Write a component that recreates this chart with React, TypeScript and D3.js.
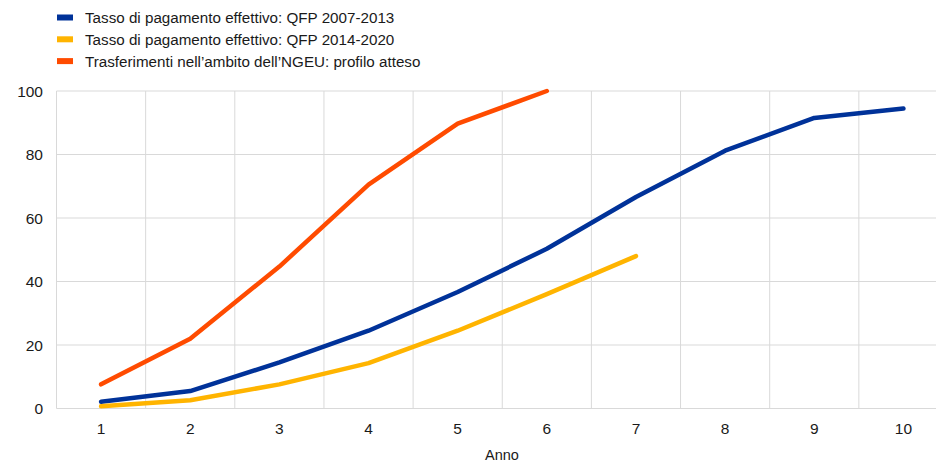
import React from "react";
import * as d3 from "d3";

const years = [1, 2, 3, 4, 5, 6, 7, 8, 9, 10];
const qfp0713 = [2.1, 5.5, 14.5, 24.5, 36.7, 50.3, 66.6, 81.2, 91.5, 94.5];
const qfp1420 = [0.7, 2.6, 7.6, 14.3, 24.5, 36.0, 48.0];
const ngeu = [7.6, 22.0, 44.7, 70.5, 89.7, 100];
const yTicks = [0, 20, 40, 60, 80, 100];

const seriesNames = [
  "Tasso di pagamento effettivo: QFP 2007-2013",
  "Tasso di pagamento effettivo: QFP 2014-2020",
  "Trasferimenti nell\u2019ambito dell\u2019NGEU: profilo atteso",
];
const colors = ["#003299", "#ffb400", "#ff4b00"];

export default function App() {
  const W = 936, H = 463;
  const left = 56.5, right = 948, top = 91, bottom = 408.5;
  const x = d3.scaleBand<number>().domain(years).range([left, right]);
  const y = d3.scaleLinear().domain([0, 100]).range([bottom, top]);
  const cx = (yr: number) => (x(yr) as number) + x.bandwidth() / 2;
  const line = d3.line<number>().x((_, i) => cx(years[i])).y((v) => y(v));
  const all = [qfp0713, qfp1420, ngeu];
  const font = "Liberation Sans, Arial, sans-serif";
  return (
    <svg width={W} height={H} style={{ position: "absolute", left: 0, top: 0, fontFamily: font }}>
      {yTicks.map((t) => (
        <line key={"h" + t} x1={left} x2={right} y1={y(t)} y2={y(t)} stroke="#d9d9d9" strokeWidth={1} />
      ))}
      {years.concat([11]).map((yr, i) => {
        const xx = left + i * x.bandwidth();
        return <line key={"v" + i} x1={xx} x2={xx} y1={top} y2={bottom} stroke="#d9d9d9" strokeWidth={1} />;
      })}
      {yTicks.map((t) => (
        <text key={"yt" + t} x={43} y={y(t) + 5.5} textAnchor="end" fontSize={15.5} fill="#1a1a1a">{t}</text>
      ))}
      {years.map((yr) => (
        <text key={"xt" + yr} x={cx(yr)} y={433.5} textAnchor="middle" fontSize={15.5} fill="#1a1a1a">{yr}</text>
      ))}
      <text x={502} y={460} textAnchor="middle" fontSize={14.5} fill="#1a1a1a">Anno</text>
      {all.map((s, i) => (
        <path key={"l" + i} d={line(s) || ""} fill="none" stroke={colors[i]} strokeWidth={4.5} strokeLinecap="round" strokeLinejoin="round" />
      ))}
      {seriesNames.map((n, i) => (
        <g key={"lg" + i} transform={`translate(57, ${17.5 + i * 21.8})`}>
          <rect x={0} y={-3} width={16} height={6} fill={colors[i]} />
          <text x={28} y={5.5} fontSize={15.2} fill="#1a1a1a">{n}</text>
        </g>
      ))}
    </svg>
  );
}
